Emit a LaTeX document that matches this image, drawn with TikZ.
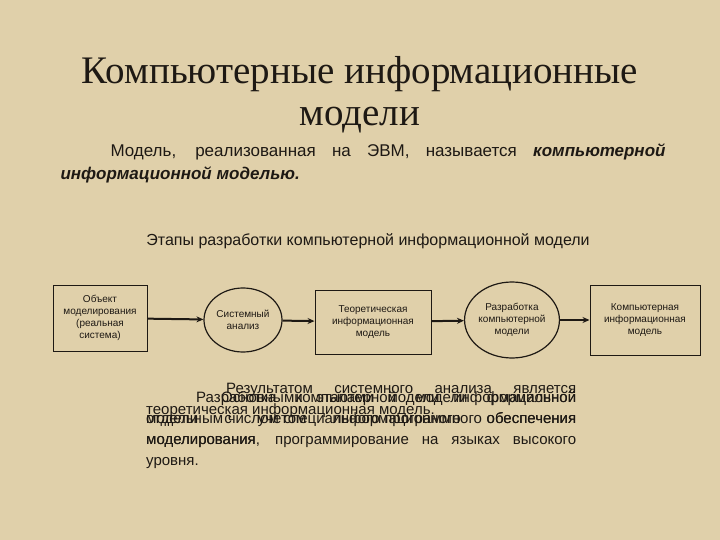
\documentclass[tikz,border=0pt]{standalone}
\usepackage{fontspec}
\setmainfont{Liberation Serif}
\newfontfamily\arial{Liberation Sans}
\usetikzlibrary{shapes.geometric,arrows.meta}
\definecolor{bg}{RGB}{224,208,170}
\definecolor{ink}{RGB}{30,25,20}
\tikzset{
 sq/.style={draw=ink,line width=1pt,align=center,font=\arial\fontsize{10}{12}\selectfont,text=ink,inner sep=2pt},
 ov/.style={ellipse,draw=ink,line width=1.2pt,align=center,font=\arial\fontsize{10}{12}\selectfont,text=ink,inner sep=0pt},
 ar/.style={-{Stealth[length=7pt,width=6pt]},line width=2pt,draw=ink},
 para/.style={font=\arial\fontsize{15}{21}\selectfont,text=ink,anchor=north west,align=justify,text width=430pt,inner sep=0pt}
}
\begin{document}
\begin{tikzpicture}[x=1pt,y=-1pt]
\fill[bg] (0,0) rectangle (720,540);
\useasboundingbox (0,0) rectangle (720,540);
\node[font=\fontsize{39}{42}\selectfont,text=ink,align=center] (t) at (360,95) {Компьютерные информационные\\модели};
\node[font=\arial\fontsize{17}{23}\selectfont,text=ink,align=justify,text width=605pt] (d) at (363,163) {\hspace*{50pt}Модель, реализованная на ЭВМ, называется \textbf{\textit{компьютерной информационной моделью.}}};
\node[font=\arial\fontsize{16}{20}\selectfont,text=ink] (e) at (368,241) {Этапы разработки компьютерной информационной модели};
\node[sq,minimum width=94pt,minimum height=66pt] (b1) at (100,318) {Объект\\моделирования\\(реальная\\система)};
\node[ov,minimum width=78pt,minimum height=64pt] (o1) at (243,320) {Системный\\анализ};
\node[sq,minimum width=116pt,minimum height=64pt] (b2) at (373,322) {Теоретическая\\информационная\\модель};
\node[ov,minimum width=92pt,minimum height=76pt] (o2) at (512,320) {Разработка\\компьютерной\\модели};
\node[sq,minimum width=110pt,minimum height=70pt] (b3) at (645,320) {Компьютерная\\информационная\\модель};
\draw[ar] (b1) -- (o1);
\draw[ar] (o1) -- (b2);
\draw[ar] (b2) -- (o2);
\draw[ar] (o2) -- (b3);
\node[para] (p1) at (146,383) {\hspace*{80pt}Результатом системного анализа является теоретическая информационная модель.};
\node[para] (p2) at (146,391) {\hspace*{50pt}Разработка компьютерной модели формальной модели с учетом информационного обеспечения моделирования, программирование на языках высокого уровня.};
\node[para] (p3) at (146,391) {\hspace*{75pt}Основными этапами модели информационной отдельным числом специального программного обеспечения моделирования};
\end{tikzpicture}
\end{document}
